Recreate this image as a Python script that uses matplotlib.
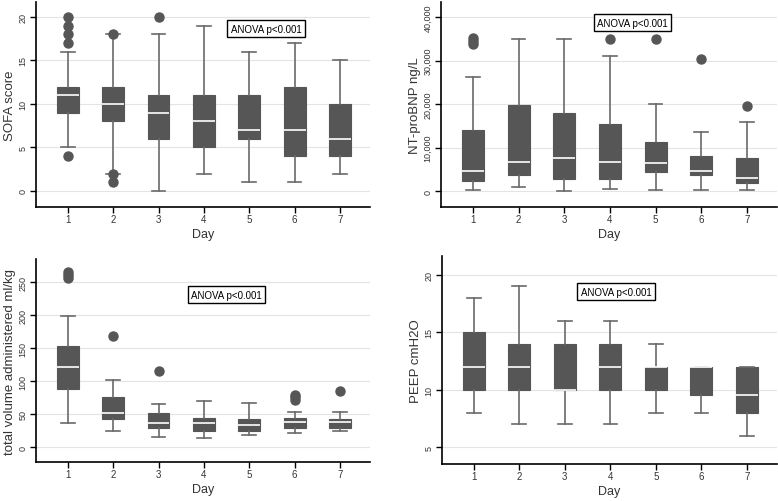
import matplotlib
matplotlib.use("Agg")
import matplotlib.pyplot as plt

plt.rcParams['font.family'] = ['Liberation Sans', 'DejaVu Sans']

days = [1, 2, 3, 4, 5, 6, 7]

#%% Data: whisker low, Q1, median, Q3, whisker high, outliers
sofa_lo = [5, 2, 0, 2, 1, 1, 2]
sofa_q1 = [9, 8, 6, 5, 6, 4, 4]
sofa_med = [11, 10, 9, 8, 7, 7, 6]
sofa_q3 = [12, 12, 11, 11, 11, 12, 10]
sofa_hi = [16, 18, 18, 19, 16, 17, 15]
sofa_out = [[4, 17, 18, 19, 20], [1, 2, 18], [20], [], [], [], []]

bnp_lo = [300, 900, 0, 600, 300, 300, 300]
bnp_q1 = [2400, 3700, 2750, 2750, 4400, 3800, 1800]
bnp_med = [4700, 6800, 7700, 6800, 6400, 4600, 3000]
bnp_q3 = [14100, 19900, 17900, 15400, 11200, 8100, 7700]
bnp_hi = [26200, 34900, 34900, 31000, 20100, 13700, 15900]
bnp_out = [[33800, 34500, 35200], [], [], [34900], [34900], [30400], [19600]]

vol_lo = [36, 24, 15, 13, 19, 21, 24]
vol_q1 = [88, 42, 29, 25, 25, 29, 29]
vol_med = [122, 51, 37, 36, 34, 38, 38]
vol_q3 = [154, 76, 51, 44, 42, 44, 42]
vol_hi = [199, 102, 66, 70, 67, 53, 53]
vol_out = [[257, 261, 265], [168], [116], [], [], [72, 76, 79], [85]]

peep_lo = [8, 7, 7, 7, 8, 8, 6]
peep_q1 = [10, 10, 10, 10, 10, 9.5, 8]
peep_med = [12, 12, 10, 12, 12, 12, 9.5]
peep_q3 = [15, 14, 14, 14, 12, 12, 12]
peep_hi = [18, 19, 16, 16, 14, 12, 12]
peep_out = [[], [], [], [], [], [], []]

box_col = '#565656'
line_col = '#6a6a6a'


def make_stats(lo, q1, med, q3, hi, out):
    stats = []
    for i in range(len(days)):
        stats.append(dict(whislo=lo[i], q1=q1[i], med=med[i], q3=q3[i],
                          whishi=hi[i], fliers=out[i]))
    return stats


def box_panel(ax, stats, ylabel, yticks, yticklabels, ylim, anova_xy):
    ax.bxp(stats, positions=days, widths=0.48, patch_artist=True,
           boxprops=dict(facecolor=box_col, edgecolor=box_col, linewidth=0.8),
           medianprops=dict(color='white', linewidth=1.2),
           whiskerprops=dict(color=line_col, linewidth=1.2),
           capprops=dict(color=line_col, linewidth=1.2),
           flierprops=dict(marker='o', markerfacecolor=box_col,
                           markeredgecolor=box_col, markersize=6.5),
           capwidths=0.3, zorder=3)
    ax.set_xlim(0.3, 7.66)
    ax.set_ylim(*ylim)
    ax.set_yticks(yticks)
    ax.set_yticklabels(yticklabels, rotation=90, va='center', fontsize=6.5, color='#333333')
    ax.set_xticks(days)
    ax.set_xticklabels([str(d) for d in days], fontsize=7, color='#333333')
    ax.grid(axis='y', color='#e4e4e4', linewidth=0.8, zorder=0)
    ax.set_axisbelow(True)
    for s in ['top', 'right']:
        ax.spines[s].set_visible(False)
    for s in ['left', 'bottom']:
        ax.spines[s].set_linewidth(1.2)
    ax.tick_params(axis='both', length=4, width=1, pad=2)
    ax.tick_params(axis='x', pad=1)
    ax.set_xlabel('Day', fontsize=9, color='#333333', labelpad=3)
    ax.set_ylabel(ylabel, fontsize=9.5, color='#333333', labelpad=2)
    ax.text(anova_xy[0], anova_xy[1], 'ANOVA p<0.001', transform=ax.transAxes,
            ha='center', va='center', fontsize=7,
            bbox=dict(boxstyle='square,pad=0.35', facecolor='white',
                      edgecolor='black', linewidth=1))


fig = plt.figure(figsize=(7.78, 5.02), dpi=100)

ax1 = fig.add_axes([0.0463, 0.5857, 0.4293, 0.408])
box_panel(ax1, make_stats(sofa_lo, sofa_q1, sofa_med, sofa_q3, sofa_hi, sofa_out),
          'SOFA score', [0, 5, 10, 15, 20], ['0', '5', '10', '15', '20'],
          (-1.84, 21.7), (0.689, 0.87))

ax2 = fig.add_axes([0.5668, 0.5857, 0.432, 0.408])
box_panel(ax2, make_stats(bnp_lo, bnp_q1, bnp_med, bnp_q3, bnp_hi, bnp_out),
          'NT-proBNP ng/L', [0, 10000, 20000, 30000, 40000],
          ['0', '10,000', '20,000', '30,000', '40,000'],
          (-3600, 43400), (0.57, 0.90))

ax3 = fig.add_axes([0.0463, 0.0777, 0.4293, 0.404])
box_panel(ax3, make_stats(vol_lo, vol_q1, vol_med, vol_q3, vol_hi, vol_out),
          'total volume administered ml/kg', [0, 50, 100, 150, 200, 250],
          ['0', '50', '100', '150', '200', '250'],
          (-22.7, 285), (0.57, 0.825))

ax4 = fig.add_axes([0.568, 0.0737, 0.4307, 0.414])
box_panel(ax4, make_stats(peep_lo, peep_q1, peep_med, peep_q3, peep_hi, peep_out),
          'PEEP cmH2O', [5, 10, 15, 20], ['5', '10', '15', '20'],
          (3.55, 21.6), (0.52, 0.83))

fig.savefig('out.png', dpi=100)
